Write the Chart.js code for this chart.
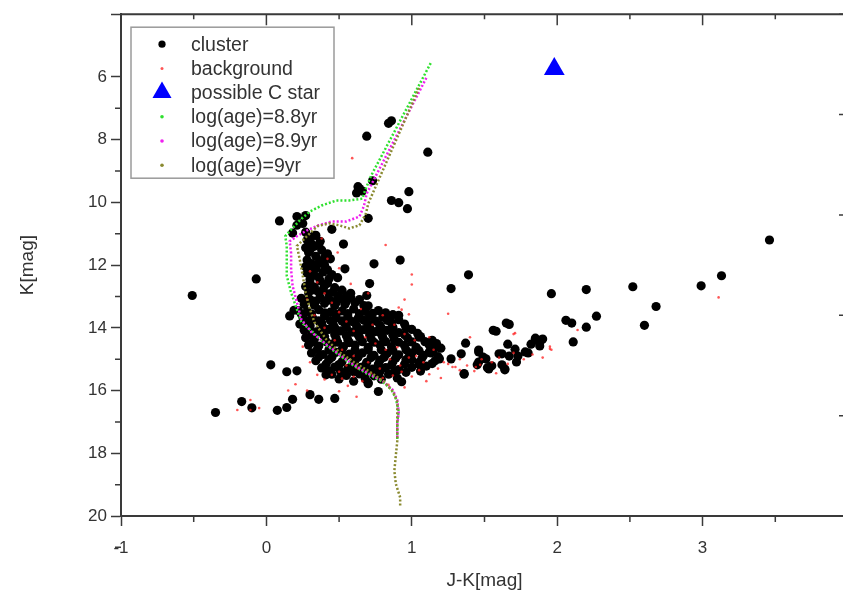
<!DOCTYPE html>
<html>
<head>
<meta charset="utf-8">
<script src="https://cdn.jsdelivr.net/npm/chart.js@4.4.0/dist/chart.umd.min.js"></script>
<style>
  html, body { margin: 0; padding: 0; background: #fff; overflow: hidden; }
  #wrap { width: 860px; height: 594px; }
</style>
</head>
<body>
<div id="wrap"><canvas id="cmd" width="860" height="594"></canvas></div>
<script>
// Colour-magnitude diagram: K vs J-K, cluster members, field stars and isochrones

// [J-K, K] for stars in the cluster region
const clusterStars = [
  // bright / isolated stars
  [0.84, 7.48], [0.86, 7.40], [0.69, 7.89], [1.11, 8.40], [0.73, 9.31],
  [0.64, 9.56], [0.62, 9.70], [0.66, 9.64], [0.63, 9.50], [0.98, 9.66],
  [0.86, 9.94], [0.91, 10.01], [0.97, 10.20], [0.70, 10.51],
  [0.09, 10.59], [0.21, 10.45], [0.27, 10.42], [0.21, 10.73], [0.25, 10.67],
  [0.18, 10.98], [0.34, 11.05], [0.45, 10.86], [0.53, 11.33], [0.54, 12.12],
  [0.74, 11.96], [0.92, 11.84], [0.71, 12.59], [0.69, 12.97], [0.67, 13.29],
  [-0.51, 12.97], [-0.07, 12.44], [0.16, 13.62], [0.19, 13.44],
  // red clump / giants to the right
  [1.39, 12.31], [1.27, 12.75], [1.96, 12.91], [2.20, 12.78], [2.52, 12.69],
  [2.99, 12.66], [3.13, 12.34], [3.46, 11.20], [2.68, 13.32], [2.27, 13.63],
  [2.20, 13.98], [2.60, 13.92], [2.06, 13.76], [2.10, 13.85], [2.11, 14.45],
  [1.67, 13.89], [1.65, 13.85], [1.58, 14.11], [1.56, 14.08], [1.37, 14.49],
  [1.85, 14.33], [1.90, 14.36], [1.82, 14.52], [1.88, 14.58], [1.66, 14.52],
  [1.71, 14.68], [1.73, 14.90], [1.80, 14.80], [1.72, 15.09], [1.67, 14.90],
  [1.62, 14.83], [1.62, 15.18], [1.64, 15.34], [1.55, 15.21], [1.52, 15.27],
  [1.46, 14.77], [1.49, 14.93], [1.45, 15.18], [1.34, 14.83], [1.27, 14.99],
  [1.19, 14.99], [1.13, 14.80], [1.36, 15.48], [1.46, 14.71], [1.51, 14.99],
  [1.46, 15.09], [1.53, 15.31], [1.60, 14.83], [1.78, 14.77], [1.85, 14.39],
  [1.89, 14.39], [1.64, 15.31], [0.91, 13.60], [1.05, 14.30], [1.12, 14.77],
  [1.36, 15.46], [1.00, 15.02], [0.93, 15.72],
  // faint end
  [0.03, 15.18], [0.14, 15.40], [0.21, 15.37], [0.41, 15.50], [0.77, 16.03],
  [0.70, 15.78], [-0.35, 16.70], [-0.17, 16.35], [-0.10, 16.55], [0.075, 16.63],
  [0.14, 16.54], [0.18, 16.28], [0.30, 16.13], [0.36, 16.28], [0.47, 16.25],
  // main branch
  [0.27, 10.95], [0.33, 11.05], [0.28, 11.20], [0.37, 11.24], [0.31, 11.32], [0.30, 11.12],
  [0.27, 11.45], [0.33, 11.40], [0.38, 11.52], [0.29, 11.60], [0.42, 11.64], [0.34, 11.72],
  [0.36, 11.36], [0.30, 11.52], [0.40, 11.76],
  [0.28, 11.84], [0.31, 11.95], [0.38, 11.88], [0.44, 11.80], [0.27, 12.05], [0.34, 12.10], [0.40, 12.00],
  [0.35, 11.98], [0.42, 12.15], [0.31, 12.15],
  [0.28, 12.25], [0.33, 12.32], [0.39, 12.22], [0.45, 12.30], [0.30, 12.46], [0.37, 12.50], [0.43, 12.44], [0.49, 12.40],
  [0.36, 12.38], [0.42, 12.58], [0.30, 12.58],
  [0.27, 12.68], [0.33, 12.70], [0.40, 12.65], [0.47, 12.72], [0.29, 12.88], [0.36, 12.86], [0.43, 12.92], [0.52, 12.80], [0.49, 12.98], [0.58, 12.90],
  [0.46, 12.85], [0.33, 12.79], [0.39, 12.78], [0.55, 12.98],
  [0.24, 13.06], [0.30, 13.10], [0.37, 13.03], [0.44, 13.12], [0.51, 13.08], [0.58, 13.04],
  [0.27, 13.16], [0.34, 13.15], [0.41, 13.13], [0.48, 13.19], [0.55, 13.16], [0.64, 13.10], [0.70, 13.30],
  [0.26, 13.25], [0.33, 13.28], [0.40, 13.22], [0.47, 13.30], [0.54, 13.26], [0.61, 13.20],
  [0.22, 13.45], [0.28, 13.48], [0.36, 13.42], [0.44, 13.50], [0.52, 13.46], [0.60, 13.40], [0.68, 13.48], [0.77, 13.45],
  [0.24, 13.56], [0.31, 13.56], [0.40, 13.52], [0.48, 13.57], [0.56, 13.55], [0.64, 13.55], [0.73, 13.54], [0.82, 13.52],
  [0.25, 13.65], [0.32, 13.70], [0.40, 13.62], [0.48, 13.68], [0.56, 13.64], [0.63, 13.70], [0.71, 13.62], [0.80, 13.66], [0.87, 13.58],
  [0.28, 13.78], [0.36, 13.78], [0.44, 13.77], [0.52, 13.78], [0.59, 13.80], [0.67, 13.76], [0.75, 13.78], [0.83, 13.76], [0.91, 13.74],
  [0.23, 13.88], [0.30, 13.92], [0.38, 13.85], [0.46, 13.90], [0.54, 13.86], [0.62, 13.93], [0.70, 13.87], [0.78, 13.92], [0.86, 13.84], [0.95, 13.88],
  [0.30, 14.00], [0.39, 13.99], [0.47, 14.00], [0.55, 13.99], [0.63, 14.01], [0.71, 13.99], [0.79, 14.00], [0.87, 13.98], [0.96, 14.00],
  [0.26, 14.08], [0.35, 14.12], [0.43, 14.05], [0.51, 14.10], [0.59, 14.14], [0.67, 14.06], [0.75, 14.12], [0.83, 14.08], [0.91, 14.15], [1.00, 14.05],
  [0.31, 14.22], [0.39, 14.20], [0.47, 14.22], [0.55, 14.25], [0.63, 14.21], [0.71, 14.23], [0.79, 14.20], [0.87, 14.24], [0.95, 14.22], [1.04, 14.18],
  [0.27, 14.32], [0.33, 14.36], [0.40, 14.28], [0.48, 14.34], [0.56, 14.38], [0.64, 14.30], [0.72, 14.35], [0.80, 14.30], [0.88, 14.38], [0.97, 14.32], [1.06, 14.28], [1.14, 14.40],
  [0.32, 14.45], [0.41, 14.44], [0.49, 14.46], [0.57, 14.47], [0.66, 14.44], [0.74, 14.46], [0.82, 14.44], [0.91, 14.46], [1.00, 14.45], [1.09, 14.44], [1.17, 14.50],
  [0.29, 14.55], [0.36, 14.58], [0.45, 14.52], [0.53, 14.60], [0.61, 14.55], [0.70, 14.62], [0.78, 14.54], [0.86, 14.60], [0.95, 14.56], [1.03, 14.62], [1.12, 14.55], [1.20, 14.65],
  [0.35, 14.69], [0.43, 14.70], [0.52, 14.69], [0.61, 14.71], [0.70, 14.70], [0.79, 14.70], [0.87, 14.72], [0.96, 14.70], [1.05, 14.73], [1.15, 14.70],
  [0.31, 14.80], [0.39, 14.85], [0.48, 14.78], [0.57, 14.84], [0.66, 14.80], [0.74, 14.88], [0.83, 14.82], [0.91, 14.86], [1.00, 14.80], [1.08, 14.88],
  [0.36, 14.93], [0.45, 14.94], [0.54, 14.92], [0.63, 14.94], [0.72, 14.95], [0.81, 14.94], [0.89, 14.96], [0.98, 14.92], [1.07, 14.96], [1.18, 14.92],
  [0.34, 15.05], [0.43, 15.02], [0.52, 15.08], [0.61, 15.03], [0.69, 15.10], [0.78, 15.04], [0.87, 15.08], [0.96, 15.02], [1.05, 15.10], [1.16, 15.05],
  [0.41, 15.16], [0.50, 15.17], [0.59, 15.17], [0.68, 15.19], [0.77, 15.16], [0.86, 15.19], [0.95, 15.16], [1.05, 15.16], [1.14, 15.14],
  [0.38, 15.28], [0.47, 15.25], [0.56, 15.30], [0.65, 15.26], [0.73, 15.32], [0.82, 15.27], [0.91, 15.33], [1.00, 15.26], [1.10, 15.22],
  [0.43, 15.38], [0.51, 15.39], [0.60, 15.40], [0.69, 15.41], [0.78, 15.40], [0.88, 15.41], [0.96, 15.42], [1.06, 15.38],
  [0.45, 15.48], [0.55, 15.52], [0.64, 15.47], [0.74, 15.53], [0.84, 15.48],
  [0.50, 15.63], [0.68, 15.62], [0.79, 15.64], [0.90, 15.60], [0.60, 15.70], [0.70, 15.75]
];

// [J-K, K] for the comparison field
const backgroundStars = [
  [0.59, 8.59], [0.82, 11.36], [1.00, 12.30], [1.00, 12.62], [0.49, 11.60], [0.38, 11.15],
  [3.11, 13.03], [-0.11, 16.30], [-0.05, 16.56], [-0.20, 16.62], [-0.11, 16.62],
  [0.95, 13.10], [1.25, 13.55], [0.28, 16.00], [0.50, 16.02], [0.62, 16.20], [1.40, 14.30],
  [0.45, 15.50], [0.52, 15.62], [0.60, 15.56], [0.66, 15.70], [0.72, 15.45], [0.80, 15.60],
  [0.87, 15.52], [0.93, 15.40], [1.00, 15.55], [1.05, 15.35], [1.12, 15.48], [1.18, 15.30],
  [1.22, 15.10], [1.28, 15.25], [1.33, 15.00], [1.38, 15.20], [1.43, 15.38], [1.48, 15.00],
  [1.55, 15.10], [1.60, 14.95], [1.66, 15.15], [1.70, 14.80], [1.77, 15.00], [1.83, 14.85],
  [1.90, 14.95], [1.95, 14.60], [1.03, 14.90], [1.08, 15.10], [1.15, 14.70], [0.98, 14.95],
  [0.92, 15.20], [0.85, 15.00], [0.78, 15.30], [0.70, 15.10], [0.63, 15.30], [0.55, 15.20],
  [0.50, 15.40], [0.40, 15.65], [0.35, 15.50], [0.30, 12.20], [0.35, 12.55], [0.40, 12.90],
  [0.45, 13.20], [0.50, 13.50], [0.55, 13.80], [0.60, 14.10], [0.68, 14.30], [0.75, 14.50],
  [0.82, 14.70], [0.90, 14.62], [0.28, 13.10], [0.33, 13.60], [0.40, 14.00], [0.47, 14.40],
  [0.52, 14.70], [0.60, 14.90], [0.73, 13.90], [0.80, 13.60], [0.88, 13.90], [0.95, 14.20],
  [1.02, 14.40], [0.65, 13.40], [0.70, 12.90], [0.58, 12.60], [0.50, 12.10], [0.42, 11.80],
  [0.25, 14.60], [0.30, 15.10], [0.20, 15.80], [0.15, 16.00], [0.91, 13.35], [0.93, 13.42],
  [0.98, 13.57], [1.12, 14.30], [1.30, 15.25], [1.25, 15.15], [1.33, 15.35], [1.44, 15.25],
  [1.47, 15.18], [1.70, 14.20], [1.96, 14.70], [1.71, 14.17], [2.14, 14.07], [1.95, 14.67],
  [1.20, 15.60], [1.10, 15.70], [0.84, 15.82], [0.95, 15.90], [0.56, 15.85], [1.58, 15.45]
];

const carbonStar = [[1.98, 5.75]];

// isochrone tracks [J-K, K]
const iso88 = [
  [1.13, 5.56], [0.72, 9.15], [0.68, 9.60], [0.66, 9.88], [0.57, 9.94], [0.48, 9.94],
  [0.38, 10.10], [0.30, 10.29], [0.23, 10.57], [0.16, 10.92], [0.13, 11.08], [0.14, 11.39],
  [0.14, 11.84], [0.14, 12.34], [0.17, 12.88], [0.21, 13.41], [0.24, 13.82], [0.32, 14.14],
  [0.41, 14.55], [0.49, 14.83], [0.58, 15.15], [0.69, 15.46], [0.80, 15.72], [0.86, 15.97],
  [0.89, 16.25], [0.91, 16.66], [0.90, 17.00], [0.90, 17.60]
];
const iso89 = [
  [1.10, 6.03], [0.69, 9.72], [0.67, 10.13], [0.64, 10.45], [0.55, 10.61], [0.45, 10.61],
  [0.36, 10.73], [0.28, 10.89], [0.21, 11.08], [0.16, 11.24], [0.17, 11.62], [0.17, 12.15],
  [0.18, 12.66], [0.21, 13.19], [0.24, 13.73], [0.31, 14.14], [0.41, 14.52], [0.49, 14.81],
  [0.58, 15.12], [0.69, 15.43], [0.80, 15.70], [0.87, 15.98], [0.90, 16.30], [0.91, 16.70],
  [0.90, 17.10], [0.90, 17.50]
];
const iso90 = [
  [1.05, 6.35], [0.70, 10.04], [0.685, 10.35], [0.64, 10.73], [0.57, 10.83], [0.50, 10.73],
  [0.43, 10.67], [0.35, 10.76], [0.30, 10.98], [0.25, 11.21], [0.21, 11.39], [0.23, 11.84],
  [0.25, 12.34], [0.27, 12.88], [0.30, 13.41], [0.33, 13.82], [0.41, 14.36], [0.50, 14.77],
  [0.60, 15.09], [0.71, 15.40], [0.81, 15.72], [0.87, 16.03], [0.90, 16.35], [0.90, 16.98],
  [0.90, 17.61], [0.89, 18.08], [0.88, 18.56], [0.89, 18.97], [0.92, 19.41], [0.92, 19.72]
];

const toXY = arr => arr.map(p => ({ x: p[0], y: p[1] }));

const axisColor = '#3a3a3a';
const textColor = '#333';
const fontFamily = '"Liberation Sans", Arial, sans-serif';

// boxed legend in the upper-left corner of the plot
const boxLegend = {
  id: 'boxLegend',
  afterDraw(chart) {
    const { ctx, chartArea } = chart;
    const left = chartArea.left + 10;
    const top = chartArea.top + 13;
    const width = 203, height = 151, rowH = 24.2;
    ctx.save();
    ctx.fillStyle = '#fff';
    ctx.fillRect(left, top, width, height);
    ctx.strokeStyle = '#9a9a9a';
    ctx.lineWidth = 1.5;
    ctx.strokeRect(left, top, width, height);
    ctx.font = '19.5px ' + fontFamily;
    ctx.textBaseline = 'middle';
    chart.data.datasets.forEach((ds, i) => {
      const cy = top + 17 + i * rowH;
      const cx = left + 31;
      ctx.fillStyle = ds.showLine ? ds.borderColor : ds.pointBackgroundColor;
      ctx.beginPath();
      if (ds.pointStyle === 'triangle') {
        const r = 11;
        ctx.moveTo(cx, cy - r);
        ctx.lineTo(cx + r * 0.866, cy + r / 2);
        ctx.lineTo(cx - r * 0.866, cy + r / 2);
        ctx.closePath();
      } else {
        ctx.arc(cx, cy, ds.legendRadius, 0, Math.PI * 2);
      }
      ctx.fill();
      ctx.fillStyle = textColor;
      ctx.fillText(ds.label, left + 60, cy + 1);
    });
    ctx.restore();
  }
};

// minor ticks, plus the top and right frame with inward ticks
const frameTicks = {
  id: 'frameTicks',
  afterDraw(chart) {
    const { ctx, chartArea: a, scales: { x, y, y2 } } = chart;
    ctx.save();
    ctx.strokeStyle = axisColor;
    ctx.lineWidth = 2;
    ctx.beginPath();
    ctx.moveTo(a.left, a.top);
    ctx.lineTo(a.right, a.top);
    ctx.lineTo(a.right, a.bottom);
    ctx.stroke();

    ctx.lineWidth = 1.5;
    ctx.beginPath();
    x.ticks.forEach((t, i) => {
      const px = x.getPixelForValue(t.value);
      ctx.moveTo(px, a.top);
      ctx.lineTo(px, a.top + 11);
      if (i < x.ticks.length - 1) {
        const mx = x.getPixelForValue(t.value + 0.5);
        ctx.moveTo(mx, a.bottom);
        ctx.lineTo(mx, a.bottom + 6);
        ctx.moveTo(mx, a.top);
        ctx.lineTo(mx, a.top + 5);
      }
    });
    y.ticks.forEach((t, i) => {
      if (i < y.ticks.length - 1) {
        const my = y.getPixelForValue(t.value + 1);
        ctx.moveTo(a.left, my);
        ctx.lineTo(a.left - 6, my);
      }
    });
    y2.ticks.forEach((t, i) => {
      const py = y2.getPixelForValue(t.value);
      ctx.moveTo(a.right, py);
      ctx.lineTo(a.right - 9, py);
      if (i < y2.ticks.length - 1) {
        const my = y2.getPixelForValue(t.value + 0.5);
        ctx.moveTo(a.right, my);
        ctx.lineTo(a.right - 5, my);
      }
    });
    ctx.stroke();
    ctx.restore();
  }
};

const isoStyle = color => ({
  showLine: true,
  borderColor: color,
  borderWidth: 2.5,
  borderDash: [2, 2],
  pointRadius: 0,
  legendRadius: 1.8,
  fill: false
});

new Chart(document.getElementById('cmd'), {
  type: 'scatter',
  data: {
    datasets: [
      { label: 'cluster', data: toXY(clusterStars), pointRadius: 4.6, legendRadius: 3.6,
        pointBackgroundColor: '#000', pointBorderWidth: 0, order: 6 },
      { label: 'background', data: toXY(backgroundStars), pointRadius: 1.3, legendRadius: 1.5,
        pointBackgroundColor: 'rgba(255,30,30,0.75)', pointBorderWidth: 0, order: 5 },
      { label: 'possible C star', data: toXY(carbonStar), pointStyle: 'triangle', pointRadius: 12,
        pointBackgroundColor: '#0000ff', pointBorderWidth: 0, order: 0 },
      Object.assign({ label: 'log(age)=8.8yr', data: toXY(iso88), order: 3 }, isoStyle('#2fe02f')),
      Object.assign({ label: 'log(age)=8.9yr', data: toXY(iso89), order: 2 }, isoStyle('#f020f0')),
      Object.assign({ label: 'log(age)=9yr', data: toXY(iso90), order: 1 }, isoStyle('#8a8a30'))
    ]
  },
  options: {
    responsive: false,
    animation: false,
    layout: { padding: { left: 0, top: 10, right: 9, bottom: 0 } },
    plugins: {
      legend: { display: false },
      tooltip: { enabled: false }
    },
    scales: {
      x: {
        type: 'linear',
        position: 'bottom',
        min: -1,
        max: 4,
        afterFit: s => { s.height = 78; },
        ticks: {
          stepSize: 1,
          autoSkip: false,
          padding: 12,
          color: textColor,
          font: { family: fontFamily, size: 17 },
          callback: v => (v === 4 ? '' : v)
        },
        grid: { drawOnChartArea: false, tickLength: 10, tickColor: axisColor, tickWidth: 1.5 },
        border: { color: axisColor, width: 2 },
        title: { display: true, text: 'J-K[mag]', color: textColor,
          font: { family: fontFamily, size: 19 }, padding: { top: 0, bottom: 2 } }
      },
      y: {
        type: 'linear',
        position: 'left',
        min: 4,
        max: 20,
        reverse: true,
        afterFit: s => { s.width = 121; },
        ticks: {
          stepSize: 2,
          autoSkip: false,
          padding: 4,
          color: textColor,
          font: { family: fontFamily, size: 17 },
          callback: v => (v === 4 ? '' : v)
        },
        grid: { drawOnChartArea: false, tickLength: 10, tickColor: axisColor, tickWidth: 1.5 },
        border: { color: axisColor, width: 2 },
        title: { display: true, text: 'K[mag]', color: textColor,
          font: { family: fontFamily, size: 19 }, padding: { top: 16, bottom: 0 } }
      },
      y2: {
        type: 'linear',
        position: 'right',
        display: false,
        min: -1,
        max: 4,
        reverse: true,
        ticks: { stepSize: 1 }
      }
    }
  },
  plugins: [frameTicks, boxLegend]
});
</script>
</body>
</html>
